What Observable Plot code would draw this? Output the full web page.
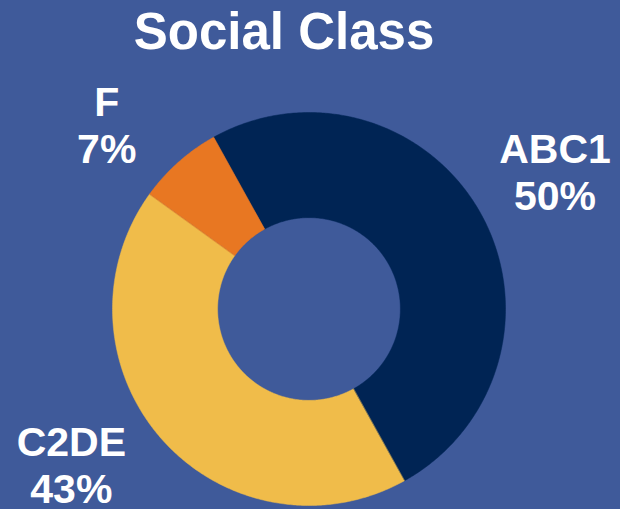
<!DOCTYPE html>
<html><head><meta charset="utf-8">
<script src="https://cdn.jsdelivr.net/npm/d3@7"></script>
<script src="https://cdn.jsdelivr.net/npm/@observablehq/plot@0.6"></script>
<style>
html,body{margin:0;padding:0;background:#3F5A9A;width:620px;height:509px;overflow:hidden;}
#title{height:58px;padding-top:2px;line-height:60px;font-family:"Liberation Sans",Arial,sans-serif;font-weight:bold;font-size:51px;color:#fff;text-align:center;padding-right:52px;box-sizing:content-box;white-space:nowrap;}
#chart svg{display:block;background:transparent;}
</style></head><body>
<div id="title">Social Class</div>
<div id="chart"></div>
<script>
const categories = ["ABC1", "C2DE", "F"];
const values = [50, 43, 7];
const percentLabels = ["50%", "43%", "7%"];
const colors = ["#002454", "#F0BC4A", "#E87722"];

// styling / layout
const startDeg = -29;
const innerRatio = 0.465;
const labelRadius = 1.42;
const labelNudge = [[2, -2], [-29, -30], [-17, 24]]; // px
const R = 196.5, cx = 308.5, cy = 248.5;

const pie = d3.pie().sort(null).value(d => d.value)
  .startAngle(startDeg * Math.PI / 180).endAngle((startDeg + 360) * Math.PI / 180);
const slices = pie(categories.map((c, i) => ({key: c, value: values[i], pct: percentLabels[i]})));

const pts = [];
for (const s of slices) {
  const n = Math.max(2, Math.ceil((s.endAngle - s.startAngle) / (Math.PI / 360)));
  for (let k = 0; k <= n; k++) {
    const a = s.startAngle + (s.endAngle - s.startAngle) * k / n;
    pts.push({key: s.data.key, x: Math.sin(a), y: Math.cos(a)});
  }
  for (let k = n; k >= 0; k--) {
    const a = s.startAngle + (s.endAngle - s.startAngle) * k / n;
    pts.push({key: s.data.key, x: innerRatio * Math.sin(a), y: innerRatio * Math.cos(a)});
  }
}

const labels = slices.map((s, i) => {
  const a = (s.startAngle + s.endAngle) / 2;
  return {
    key: s.data.key,
    text: s.data.key + "\n" + s.data.pct,
    x: labelRadius * Math.sin(a) + labelNudge[i][0] / R,
    y: labelRadius * Math.cos(a) - labelNudge[i][1] / R
  };
});

const chart = Plot.plot({
  width: 620,
  height: 449,
  margin: 0,
  x: {domain: [-1, 1], range: [cx - R, cx + R], axis: null},
  y: {domain: [-1, 1], range: [cy + R, cy - R], axis: null},
  color: {domain: categories, range: colors},
  style: {background: "transparent", overflow: "visible"},
  marks: [
    Plot.line(pts, {x: "x", y: "y", z: "key", fill: "key", stroke: "key", strokeWidth: 0.5, curve: "linear-closed"}),
    Plot.text(labels, {x: "x", y: "y", text: "text", fill: "white", fontSize: 41, fontWeight: "bold",
      fontFamily: "Liberation Sans, Arial, sans-serif", lineHeight: 1.15, textAnchor: "middle"})
  ]
});
document.getElementById("chart").appendChild(chart);
</script>
</body></html>
